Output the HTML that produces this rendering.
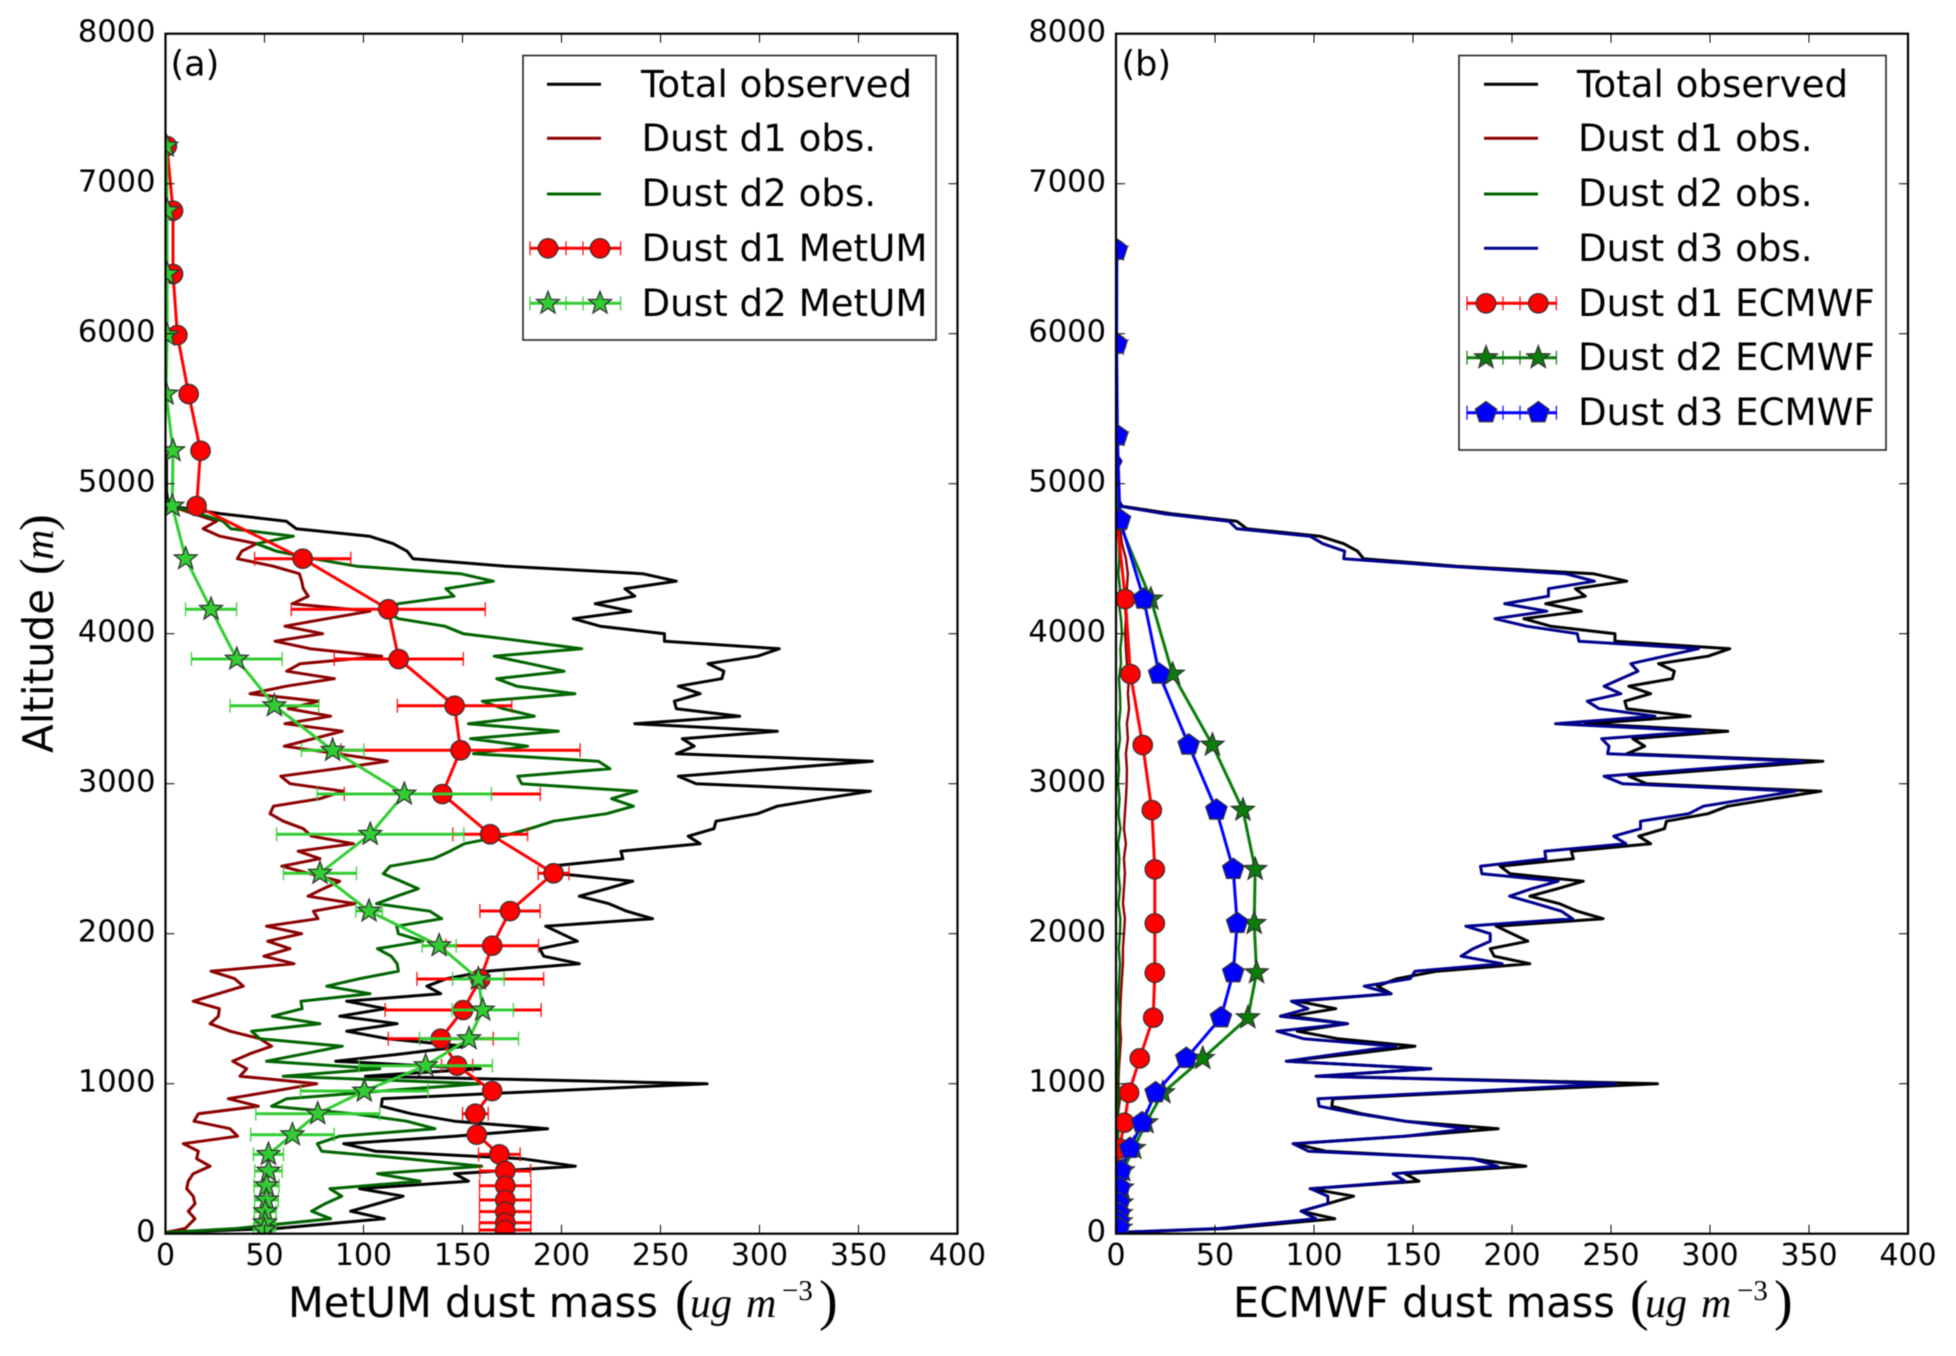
<!DOCTYPE html>
<html lang="en">
<head>
<meta charset="utf-8">
<title>MetUM and ECMWF dust mass profiles</title>
<style>
html,body{margin:0;padding:0;background:#fff;}
svg{display:block;font-family:"DejaVu Sans","Liberation Sans",sans-serif;filter:blur(0.4px);}
.math{font-family:"Liberation Serif","DejaVu Serif",serif;font-style:italic;}
.paren{font-family:"Liberation Serif","DejaVu Serif",serif;font-weight:normal;}
.leg{font-size:37.2px;fill:#000;}
</style>
</head>
<body>
<svg id="figure" xmlns="http://www.w3.org/2000/svg" width="1956" height="1356" viewBox="0 0 1956 1356">
  <rect x="0" y="0" width="1956" height="1356" fill="#fff"/>
  <defs>
    <clipPath id="clip-a"><rect x="165.5" y="33.7" width="792" height="1200"/></clipPath>
    <clipPath id="clip-b"><rect x="1116" y="33.7" width="792" height="1200"/></clipPath>
  </defs>

  <g id="panel-a"></g>
  <g id="panel-b"></g>

  <text x="170.5" y="75.5" font-size="35">(a)</text>
  <text x="1121.5" y="75.5" font-size="35">(b)</text>

  <g transform="translate(53,753) rotate(-90)">
    <text x="0" y="0" font-size="42">Altitude</text>
    <text class="paren" x="178" y="1" font-size="50">(</text>
    <text class="math" x="193" y="0" font-size="42">m</text>
    <text class="paren" x="222" y="1" font-size="50">)</text>
  </g>

  <g>
    <text x="288" y="1317" font-size="41.5">MetUM dust mass</text>
    <text class="paren" x="675" y="1319" font-size="56">(</text>
    <text class="math" x="690" y="1317" font-size="42">ug</text>
    <text class="math" x="746" y="1317" font-size="42">m</text>
    <text class="math" x="782" y="1300" font-size="29" style="font-style:normal">−3</text>
    <text class="paren" x="819" y="1319" font-size="56">)</text>
  </g>
  <g>
    <text x="1233" y="1317" font-size="41.5">ECMWF dust mass</text>
    <text class="paren" x="1630" y="1319" font-size="56">(</text>
    <text class="math" x="1645" y="1317" font-size="42">ug</text>
    <text class="math" x="1701" y="1317" font-size="42">m</text>
    <text class="math" x="1737" y="1300" font-size="29" style="font-style:normal">−3</text>
    <text class="paren" x="1774" y="1319" font-size="56">)</text>
  </g>

  <g id="legend-a">
    <rect x="523" y="55.5" width="413" height="284.5" fill="#fff" stroke="#222" stroke-width="1.6"/>
    <text class="leg" x="641" y="97">Total observed</text>
    <text class="leg" x="641.5" y="151">Dust d1 obs.</text>
    <text class="leg" x="641.5" y="206">Dust d2 obs.</text>
    <text class="leg" x="641.5" y="261">Dust d1 MetUM</text>
    <text class="leg" x="641.5" y="316">Dust d2 MetUM</text>
  </g>
  <g id="legend-b">
    <rect x="1459" y="55.5" width="427" height="394.5" fill="#fff" stroke="#222" stroke-width="1.6"/>
    <text class="leg" x="1577" y="97">Total observed</text>
    <text class="leg" x="1578" y="151">Dust d1 obs.</text>
    <text class="leg" x="1578" y="206">Dust d2 obs.</text>
    <text class="leg" x="1578" y="261">Dust d3 obs.</text>
    <text class="leg" x="1578" y="316">Dust d1 ECMWF</text>
    <text class="leg" x="1578" y="370">Dust d2 ECMWF</text>
    <text class="leg" x="1578" y="425">Dust d3 ECMWF</text>
  </g>
</svg>

<script>
// ---------- axis tick labels ----------
const xTickLabels = [0, 50, 100, 150, 200, 250, 300, 350, 400];
const yTickLabels = [0, 1000, 2000, 3000, 4000, 5000, 6000, 7000, 8000];

// ---------- observed profiles (altitude in m, mass in ug m-3) ----------
const obsAltitude = [
  5200,5150,5100,5050,5000,4950,4900,4850,4800,4750,
  4700,4650,4600,4550,4500,4450,4400,4350,4300,4250,
  4200,4150,4100,4050,4000,3950,3900,3850,3800,3750,
  3700,3650,3600,3550,3500,3450,3400,3350,3300,3250,
  3200,3150,3100,3050,3000,2950,2900,2850,2800,2750,
  2700,2650,2600,2550,2500,2450,2400,2350,2300,2250,
  2200,2150,2100,2050,2000,1950,1900,1850,1800,1750,
  1700,1650,1600,1550,1500,1450,1400,1350,1300,1250,
  1200,1150,1100,1050,1000,950,900,850,800,750,
  700,650,600,550,500,450,400,350,300,250,
  200,150,100,35,8];
const totalObserved = [
  0,0.5,0.5,0.5,0.5,0.5,1,3,28,61,
  66,103,115,122,125,172,241,258,232,237,
  217,235,206,219.5,252,252,310,299,274,282,
  281,259,270,257,258,290,237,309,261,267,
  258,357,308,259,268,356,332,309,299,278,
  277,264,270,230,231,194,199,236,223,209,
  224,233,246,192,200,208,189,191,209,162,
  142,132,139,91.5,111,88,117,91.5,112,151,
  120,86,159,101,273.5,190,109.5,109,124,146,
  193,146,90,106,180,207,146,153,98,120,
  107,93.5,110.5,56,0];
const dustD1Obs = [
  0,0,0,0,0,0,0,3,14,25.8,
  19,27.5,46,38.5,36.3,54.4,67.6,68.8,69.6,72.1,
  64.2,103.3,81.4,60.3,79.4,55.3,73,109.2,68,61.2,
  85.3,61,42.7,77.2,62,83.4,60.3,89.3,74.7,60,
  86.5,112,86.5,58.2,62.9,89.8,78,54.5,52.8,59.5,
  69.6,73.8,94.9,67,78,58.7,73,88,79.7,72,
  95.7,74.7,77,51,68.8,51.6,62.9,49.7,64.9,23,
  35,39.3,26.7,14,27.2,26.7,22.5,32.6,47.7,53.6,
  42.7,33.9,41,37.6,76.4,54.4,31.7,46.9,16.6,14.4,
  32.6,36.4,9,16.6,15.7,22.5,14,11.5,10.7,14,
  14.9,11.5,14.9,10,0];
const dustD2Obs = [
  0,0,0,0,0,0,0,4,17,29,
  33,64.6,46,56,74.6,96.5,149,165.6,141.6,145.7,
  117.6,111.7,117.6,141,150.4,181,210.2,166,184,201.3,
  167.3,177.4,206.8,160,170.6,186.3,153,198.4,154.1,182.9,
  155.5,218.6,224.5,177.9,179.9,238,225.3,236.3,222.8,195.9,
  184,170,151,143.7,135.3,113.4,110,119,127.7,116.8,
  106.6,133.6,139.5,116.8,117.6,130,107,114,117,117.6,
  98,81.4,103.3,68.4,69,54,78,43.5,47.7,89.3,
  70.4,51,108.3,59.5,158.8,108,61.2,53.6,94.9,121.8,
  136.1,88,76.7,78.9,121.8,159.7,107,128.6,83,89,
  80.6,73.8,83.4,36,0];
const dustD3Obs = [
  0,2.5,0.5,0.5,0.5,0.5,1,2,24,57,
  61,98,104.5,115.5,115,168,227,241.6,218.4,218.4,
  196.3,217.6,191.4,207.3,233,233.8,294.2,277,260,263.6,
  255,246.5,255,238,244,272.2,222,296.7,245.3,249,
  248.3,347,296,246.5,255.8,343.2,320,296.7,289.3,264.9,
  264.9,251.4,257.5,216.6,217.1,184.1,184.8,223.3,210,198.8,
  212.2,225,230.6,176.7,189,189,180.4,174.3,195,151,
  148.6,125.4,138.8,88.6,97,83,116.8,81.3,94.7,141.2,
  113,86.2,158.4,101.3,252,180,102,102.6,121.7,146,
  178,146,89.4,97.2,180,192.7,140,146,98.4,107,
  107,93.5,100.9,52,0];

// small d1 / d2 observed curves as re-plotted in panel (b)
const obsBAltitude = [
  4800,4700,4600,4500,4400,4300,4200,4100,4000,3900,
  3800,3700,3600,3500,3400,3300,3200,3100,3000,2900,
  2800,2700,2600,2500,2400,2300,2200,2100,2000,1900,
  1800,1700,1600,1500,1400,1300,1200,1100,1000,900,
  800,700,600,500,400,300,200,100,0];
const dustD1ObsB = [
  0.5,2,3,5,6,5.5,4.5,5,4.6,5,
  5.5,6.5,6,6.6,5.5,6,5,5.5,5.4,5,
  4.5,4,5,4,4.5,4,3.5,4.5,4,3.5,
  3.5,3,2.5,2.2,2,2.5,2,1.5,1.2,2,
  1,1.2,0.8,0.8,1,0.6,0.6,0.6,0];
const dustD2ObsB = [
  0.3,1,1.5,1.7,1.2,2,1.5,2.5,3,2.2,
  2.5,1.5,2,2.2,1.5,2,1,1.5,1,1.8,
  1.2,2.2,1,1.7,1.3,2,1.2,2.2,2,1.4,
  2,1.6,1.2,1.7,1.2,1.5,1.3,1,0.8,1,
  0.8,1,0.6,0.6,0.7,0.4,0.4,0.4,0];

// ---------- MetUM model ----------
const metumAltitude = [7251,6820,6398,5991,5598,5220,4851,4500,4163,3831,3520,3223,2931,2663,2403,2151,1920,1698,1491,1300,1120,951,800,660,529,418,320,225,147,73,25];
const d1Metum    = [0.7,3.8,3.8,6,11.7,17.7,15.7,69.3,112.5,117.8,146,149,139.8,164,196,174,165,159,150.3,139,147.3,165,156.5,157.2,168.6,171.6,171.6,171.6,171.6,171.6,171.5];
const d1MetumErr = [0,0,0,0,0,0,0,24.3,49,32.6,28.9,60.4,49.5,18.9,7.8,15.2,23.4,32,39.4,26.5,7.9,2,6.5,0,10.5,12.8,13,13,13,13,13];
const d2Metum    = [0.4,0.8,0.8,0.8,0.3,3.8,3.4,10.2,23,36,55,84.4,120.6,103.4,78,102.8,138.2,158,160.2,153.3,131.4,100.4,76.9,64.1,52,52,51,51,50.4,50.2,49.9];
const d2MetumErr = [0,0,0,0,0,0,0,0,12.9,22.9,22.4,15.8,44,47.3,18.4,6.7,8.6,13,15.5,25,33.7,32.2,31.3,21.1,7.6,6.9,6.3,6,5.5,5.5,5.5];

// ---------- ECMWF model ----------
const ecmwfAltitude = [6558,5931,5320,4758,4231,3731,3258,2824,2429,2069,1740,1440,1169,940,740,569,420,305,205,135,80,38];
const d1Ecmwf = [0.1,0.1,0.1,0.5,4.7,7.3,13.5,18.1,19.6,19.6,19.6,18.8,12,6.6,4.2,1.7,0.4,0.3,0.2,0.2,0.2,0.2];
const d2Ecmwf = [0.1,0.1,0.3,1,17.6,28.6,48.7,64.1,70.3,69.8,71,66.6,43.8,23.7,15.2,9,3.4,3,2.7,2.4,2.3,2.2];
const d3Ecmwf = [0.4,0.3,0.7,2,14,21.8,36.7,50.7,59.2,61.2,59.2,53,35.5,20,13.2,7.1,2.4,1.9,1.6,1.6,1.5,1.5];

// ---------- axis functions ----------
const SVGNS = 'http://www.w3.org/2000/svg';
const AX_TOP = 33.7, AX_BOTTOM = 1233.7, AX_WIDTH = 792;
const LEFT_A = 165.5, LEFT_B = 1116;
function yScale(alt) { return AX_BOTTOM - (alt / 8000) * (AX_BOTTOM - AX_TOP); }
function xScale(val, left) { return left + (val / 400) * AX_WIDTH; }

function mk(tag, parent, attrs) {
  const el = document.createElementNS(SVGNS, tag);
  for (const k in attrs) el.setAttribute(k, attrs[k]);
  parent.appendChild(el);
  return el;
}

function shapePoints(shape, cx, cy, r) {
  const pts = [];
  if (shape === 'star') {
    for (let i = 0; i < 10; i++) {
      const rad = i % 2 === 0 ? r : r * 0.42;
      const a = -Math.PI / 2 + i * Math.PI / 5;
      pts.push((cx + rad * Math.cos(a)).toFixed(2) + ',' + (cy + rad * Math.sin(a)).toFixed(2));
    }
  } else {
    for (let i = 0; i < 5; i++) {
      const a = -Math.PI / 2 + i * 2 * Math.PI / 5;
      pts.push((cx + r * Math.cos(a)).toFixed(2) + ',' + (cy + r * Math.sin(a)).toFixed(2));
    }
  }
  return pts.join(' ');
}

function marker(parent, shape, cx, cy, fill) {
  const style = { fill: fill, stroke: '#333', 'stroke-width': 1.3 };
  if (shape === 'circle') {
    return mk('circle', parent, Object.assign({ cx: cx, cy: cy, r: 9.7 }, style));
  }
  const r = shape === 'star' ? 12 : 11.2;
  return mk('polygon', parent, Object.assign({ points: shapePoints(shape, cx, cy, r) }, style));
}

function curve(parent, alts, vals, left, color, width) {
  const d = alts.map((a, i) => xScale(vals[i], left).toFixed(2) + ',' + yScale(a).toFixed(2)).join(' ');
  return mk('polyline', parent, { points: d, fill: 'none', stroke: color, 'stroke-width': width, 'stroke-linejoin': 'round' });
}

function errorBars(parent, alts, vals, errs, left, color, baseName) {
  alts.forEach((a, i) => {
    if (!errs[i]) return;
    const y = yScale(a), x0 = xScale(vals[i] - errs[i], left), x1 = xScale(vals[i] + errs[i], left);
    const bar = mk('line', parent, { x1: x0, x2: x1, y1: y, y2: y, stroke: color, 'stroke-width': 3 });
    
    
    const capL = mk('line', parent, { x1: x0, x2: x0, y1: y - 7, y2: y + 7, stroke: color, 'stroke-width': 1.2 });
    
    
    const capR = mk('line', parent, { x1: x1, x2: x1, y1: y - 7, y2: y + 7, stroke: color, 'stroke-width': 1.2 });
    
    
  });
}

function modelSeries(parent, alts, vals, left, color, shape, baseName) {
  const line = curve(parent, alts, vals, left, color, 3);
  
  
  alts.forEach((a, i) => {
    const m = marker(parent, shape, xScale(vals[i], left), yScale(a), color);
    
    
  });
}

function drawAxes(panel, left) {
  const right = left + AX_WIDTH;
  xTickLabels.forEach(t => {
    const x = xScale(t, left);
    if (t !== 0 && t !== 400) {
      const b = mk('line', panel, { x1: x, x2: x, y1: AX_BOTTOM, y2: AX_BOTTOM - 9, stroke: '#000', 'stroke-width': 1 });
      
      
      const u = mk('line', panel, { x1: x, x2: x, y1: AX_TOP, y2: AX_TOP + 9, stroke: '#000', 'stroke-width': 1 });
      
      
    }
    const lab = mk('text', panel, { x: x, y: 1265, 'font-size': 30, 'text-anchor': 'middle' });
    lab.textContent = t;
    
    
  });
  yTickLabels.forEach(t => {
    const y = yScale(t);
    if (t !== 0 && t !== 8000) {
      const l = mk('line', panel, { x1: left, x2: left + 9, y1: y, y2: y, stroke: '#000', 'stroke-width': 1 });
      
      
      const r = mk('line', panel, { x1: right, x2: right - 9, y1: y, y2: y, stroke: '#000', 'stroke-width': 1 });
      
      
    }
    const lab = mk('text', panel, { x: left - 10, y: y + 8, 'font-size': 30.5, 'text-anchor': 'end' });
    lab.textContent = t;
    
    
  });
  const frame = mk('rect', panel, { x: left, y: AX_TOP, width: AX_WIDTH, height: AX_BOTTOM - AX_TOP, fill: 'none', stroke: '#000', 'stroke-width': 2.2 });
  
  
}

function legendLine(parent, x0, x1, y, color, name) {
  const l = mk('line', parent, { x1: x0, x2: x1, y1: y, y2: y, stroke: color, 'stroke-width': 3 });
  
  
}

function legendModel(parent, x0, x1, m0, m1, t0, t1, y, color, shape, name) {
  const l = mk('line', parent, { x1: x0, x2: x1, y1: y, y2: y, stroke: color, 'stroke-width': 3 });
  
  
  [x0, t0, t1, x1].forEach(x => {
    const c = mk('line', parent, { x1: x, x2: x, y1: y - 7, y2: y + 7, stroke: color, 'stroke-width': 1.2 });
    
    
  });
  [m0, m1].forEach(x => {
    const m = marker(parent, shape, x, y, color);
    
    
  });
}

// ---------- panel (a) ----------
const panelA = document.getElementById('panel-a');
const plotA = mk('g', panelA, { 'clip-path': 'url(#clip-a)' });



const aTotal = curve(plotA, obsAltitude, totalObserved, LEFT_A, '#000', 3);


const aD1 = curve(plotA, obsAltitude, dustD1Obs, LEFT_A, '#8b0000', 3);


const aD2 = curve(plotA, obsAltitude, dustD2Obs, LEFT_A, '#006400', 3);



errorBars(plotA, metumAltitude, d1Metum, d1MetumErr, LEFT_A, '#ff0000', 'dust-d1-metum');
modelSeries(plotA, metumAltitude, d1Metum, LEFT_A, '#ff0000', 'circle', 'dust-d1-metum');
errorBars(plotA, metumAltitude, d2Metum, d2MetumErr, LEFT_A, '#32cd32', 'dust-d2-metum');
modelSeries(plotA, metumAltitude, d2Metum, LEFT_A, '#32cd32', 'star', 'dust-d2-metum');
drawAxes(panelA, LEFT_A);

// ---------- panel (b) ----------
const panelB = document.getElementById('panel-b');
const plotB = mk('g', panelB, { 'clip-path': 'url(#clip-b)' });



const bTotal = curve(plotB, obsAltitude, totalObserved, LEFT_B, '#000', 3);


const bD1 = curve(plotB, obsBAltitude, dustD1ObsB, LEFT_B, '#8b0000', 2.4);


const bD2 = curve(plotB, obsBAltitude, dustD2ObsB, LEFT_B, '#006400', 2.4);


const bD3 = curve(plotB, obsAltitude, dustD3Obs, LEFT_B, '#00008b', 3);



modelSeries(plotB, ecmwfAltitude, d1Ecmwf, LEFT_B, '#ff0000', 'circle', 'dust-d1-ecmwf');
modelSeries(plotB, ecmwfAltitude, d2Ecmwf, LEFT_B, '#0a7d0a', 'star', 'dust-d2-ecmwf');
modelSeries(plotB, ecmwfAltitude, d3Ecmwf, LEFT_B, '#0000ff', 'pentagon', 'dust-d3-ecmwf');
drawAxes(panelB, LEFT_B);

// ---------- legend handles ----------
const legendA = document.getElementById('legend-a');
legendLine(legendA, 547, 601, 84.3, '#000', 'legend-a-total-handle');
legendLine(legendA, 547, 601, 138.3, '#8b0000', 'legend-a-d1-obs-handle');
legendLine(legendA, 547, 601, 194, '#006400', 'legend-a-d2-obs-handle');
legendModel(legendA, 530, 620.6, 548, 600, 566, 583, 248.3, '#ff0000', 'circle', 'legend-a-d1-metum-handle');
legendModel(legendA, 530, 620.6, 548, 600, 566, 583, 303.3, '#32cd32', 'star', 'legend-a-d2-metum-handle');

const legendB = document.getElementById('legend-b');
legendLine(legendB, 1484, 1538, 84.3, '#000', 'legend-b-total-handle');
legendLine(legendB, 1484, 1538, 138.3, '#8b0000', 'legend-b-d1-obs-handle');
legendLine(legendB, 1484, 1538, 194, '#006400', 'legend-b-d2-obs-handle');
legendLine(legendB, 1484, 1538, 248.3, '#00008b', 'legend-b-d3-obs-handle');
legendModel(legendB, 1467, 1556.4, 1486, 1538.3, 1503, 1520, 303.3, '#ff0000', 'circle', 'legend-b-d1-ecmwf-handle');
legendModel(legendB, 1467, 1556.4, 1486, 1538.3, 1503, 1520, 357.7, '#0a7d0a', 'star', 'legend-b-d2-ecmwf-handle');
legendModel(legendB, 1467, 1556.4, 1486, 1538.3, 1503, 1520, 412.7, '#0000ff', 'pentagon', 'legend-b-d3-ecmwf-handle');
</script>
</body>
</html>
